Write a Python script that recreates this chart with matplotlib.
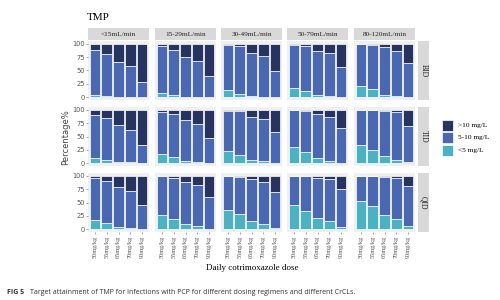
import numpy as np
import matplotlib.pyplot as plt
from matplotlib.patches import Rectangle

doses = ['50mg/kg', '55mg/kg', '65mg/kg', '70mg/kg', '90mg/kg']
crcl = ['<15mL/min', '15-29mL/min', '30-49mL/min', '50-79mL/min', '80-120mL/min']
regimens = ['BID', 'TID', 'QID']
categories = ['>10 mg/L', '5-10 mg/L', '<5 mg/L']

# percentage of patients with concentration <5 mg/L, per regimen then CrCL group
pct_lt5 = {
    'BID': [[4, 2, 1, 0, 0], [8, 4, 1, 1, 0], [13, 7, 2, 1, 0],
            [18, 11, 4, 2, 0], [21, 16, 4, 3, 0]],
    'TID': [[10, 6, 3, 2, 0], [17, 11, 5, 3, 0], [23, 16, 7, 4, 0],
            [30, 21, 9, 5, 1], [34, 25, 13, 7, 2]],
    'QID': [[18, 11, 4, 3, 0], [27, 20, 9, 6, 1], [36, 28, 15, 10, 3],
            [45, 35, 21, 16, 4], [52, 43, 26, 20, 6]],
}
# percentage with concentration >10 mg/L
pct_gt10 = {
    'BID': [[12, 19, 35, 42, 71], [5, 11, 24, 32, 60], [3, 4, 17, 23, 51],
            [2, 5, 13, 18, 43], [1, 2, 7, 14, 36]],
    'TID': [[9, 15, 29, 37, 66], [4, 8, 20, 27, 52], [2, 3, 13, 18, 42],
            [1, 2, 8, 14, 35], [1, 1, 3, 5, 30]],
    'QID': [[4, 10, 22, 28, 54], [0, 4, 12, 18, 40], [0, 3, 7, 11, 31],
            [0, 0, 4, 6, 25], [0, 0, 2, 4, 19]],
}

colors = {'>10 mg/L': '#27345f', '5-10 mg/L': '#4a68b2', '<5 mg/L': '#4cb2c2'}
serif = 'Liberation Serif'
W, H = 500, 300

fig = plt.figure(figsize=(5, 3), dpi=100)


def px_axes(x0, y0, x1, y1):
    return fig.add_axes([x0 / W, 1 - y1 / H, (x1 - x0) / W, (y1 - y0) / H])


col_left = [88, 155, 221, 287, 354]
row_top = [41, 107, 173]
pw, ph = 61, 59
x = np.arange(len(doses))

for r, reg in enumerate(regimens):
    for c, grp in enumerate(crcl):
        ax = px_axes(col_left[c], row_top[r], col_left[c] + pw, row_top[r] + ph)
        ax.set_facecolor('#f0f0f0')
        low = np.array(pct_lt5[reg][c])
        high = np.array(pct_gt10[reg][c])
        mid = 100 - low - high
        kw = dict(width=0.92, edgecolor='white', linewidth=0.5)
        ax.bar(x, low, color=colors['<5 mg/L'], **kw)
        ax.bar(x, mid, bottom=low, color=colors['5-10 mg/L'], **kw)
        ax.bar(x, high, bottom=low + mid, color=colors['>10 mg/L'], **kw)
        ax.set_xlim(-0.6, 4.6)
        ax.set_ylim(-5, 105)
        for s in ax.spines.values():
            s.set_visible(False)
        ax.set_yticks([0, 25, 50, 75, 100])
        ax.set_xticks(x)
        ax.tick_params(length=1.5, width=0.4, color='#666666', pad=1)
        if c == 0:
            ax.tick_params(axis='y', labelsize=4.8, labelcolor='#555555')
        else:
            ax.tick_params(axis='y', left=False, labelleft=False)
        if r == 2:
            ax.set_xticklabels(doses, rotation=90, fontsize=4.5, color='#555555',
                               family=serif)
        else:
            ax.tick_params(axis='x', bottom=False, labelbottom=False)

        if r == 0:
            st = px_axes(col_left[c], 28, col_left[c] + pw, 40)
            st.set_facecolor('#d9d9d9')
            st.set_xticks([])
            st.set_yticks([])
            for s in st.spines.values():
                s.set_visible(False)
            st.text(0.5, 0.5, grp, ha='center', va='center', fontsize=5.2,
                    family=serif, color='#222222')

    st = px_axes(418, row_top[r], 429, row_top[r] + ph)
    st.set_facecolor('#d9d9d9')
    st.set_xticks([])
    st.set_yticks([])
    for s in st.spines.values():
        s.set_visible(False)
    st.text(0.5, 0.5, reg, ha='center', va='center', rotation=-90, fontsize=5.5,
            family=serif, color='#222222')

fig.text(87 / W, 1 - 17 / H, 'TMP', fontsize=8, family=serif, va='center')
fig.text(66 / W, 1 - 137 / H, 'Percentage%', rotation=90, fontsize=6,
         color='#444444', ha='center', va='center')
fig.text(252 / W, 1 - 268 / H, 'Daily cotrimoxazole dose', fontsize=6.5,
         family=serif, ha='center', va='center')

# legend
leg_y = [120, 132, 145]
for cat, y in zip(categories, leg_y):
    fig.patches.append(Rectangle((442 / W, 1 - (y + 11) / H), 11 / W, 11 / H,
                                 transform=fig.transFigure,
                                 facecolor=colors[cat], edgecolor='white',
                                 linewidth=0.5))
    fig.text(458 / W, 1 - (y + 5.5) / H, cat, fontsize=5.3, family=serif,
             va='center')

fig.text(7 / W, 1 - 293 / H, 'FIG 5', fontsize=5, fontweight='bold',
         family='Open Sans', color='#333333', va='center')
fig.text(30 / W, 1 - 293 / H,
         'Target attainment of TMP for infections with PCP for different dosing '
         'regimens and different CrCLs.',
         fontsize=5, family='Open Sans', color='#333333', va='center')

fig.savefig('out.png', dpi=100)
